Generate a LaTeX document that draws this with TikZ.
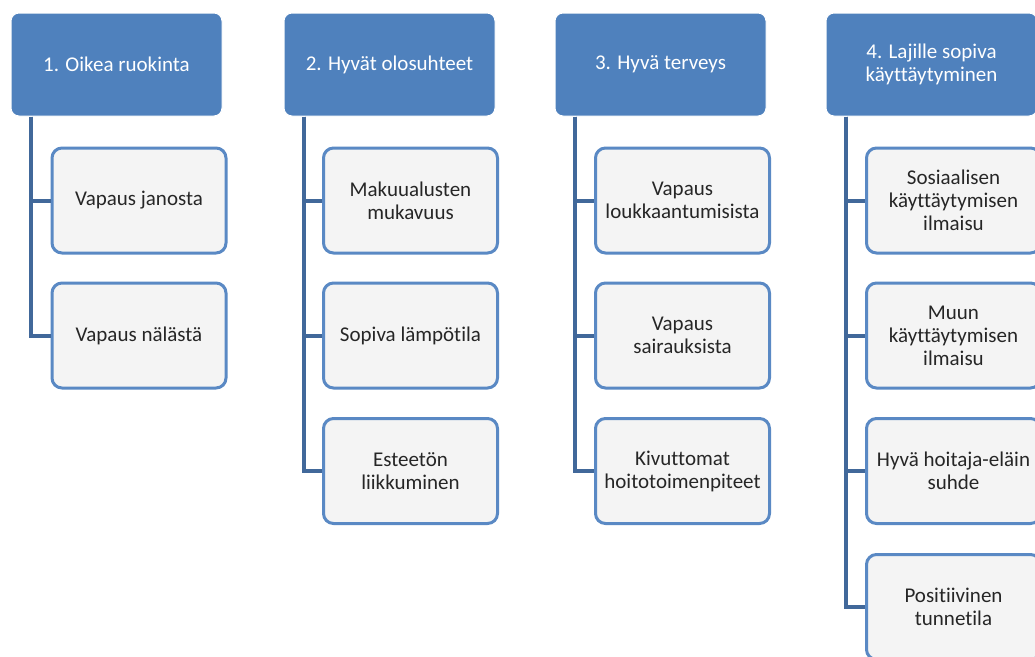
\documentclass[tikz,border=0pt]{standalone}
\usepackage{fontspec}
\setmainfont[Ligatures=NoCommon]{Carlito}
\definecolor{headblue}{HTML}{4F81BD}
\definecolor{boxline}{HTML}{5A89C4}
\definecolor{boxfill}{HTML}{F4F4F4}
\definecolor{linkblue}{HTML}{41689A}
\tikzset{
    head/.style={draw=white, line width=1pt, fill=headblue, rounded corners=8pt,
        minimum width=211pt, minimum height=103pt, text=white, align=center,
        font=\fontsize{21}{23}\selectfont},
    item/.style={draw=boxline, line width=3pt, fill=boxfill, rounded corners=10pt,
        minimum width=174pt, minimum height=105pt, text=black!85, align=center,
        font=\fontsize{21}{23}\selectfont},
    link/.style={draw=linkblue, line width=4pt}
}
\begin{document}
\begin{tikzpicture}[x=1pt, y=-1pt]
        \pgfmathsetmacro\hy{64.5};
        \pgfmathsetmacro\r{20};

        \fill[white] (0, 0) rectangle (1035, 656);
        \clip (0, 0) rectangle (1035, 656);

        \node[head] (h1) at (116.5, \hy) {1. Oikea ruokinta};
        \node[head] (h2) at (389.5, \hy) {2. Hyvät olosuhteet};
        \node[head] (h3) at (660.5, \hy) {3. Hyvä terveys};
        \node[head] (h4) at (931.5, \hy) {4. Lajille sopiva\\käyttäytyminen};

        \node[item] (v1) at (139, 200.5) {Vapaus janosta};
        \node[item] (v2) at (139, 335.5) {Vapaus nälästä};

        \node[item] (o1) at (410.5, 200.5) {Makuualusten\\mukavuus};
        \node[item] (o2) at (410.5, 335.5) {Sopiva lämpötila};
        \node[item] (o3) at (410.5, 471) {Esteetön\\liikkuminen};

        \node[item] (t1) at (682.5, 200.5) {Vapaus\\loukkaantumisista};
        \node[item] (t2) at (682.5, 335.5) {Vapaus\\sairauksista};
        \node[item] (t3) at (682.5, 471) {Kivuttomat\\hoitotoimenpiteet};

        \node[item] (k1) at (953.5, 200.5) {Sosiaalisen\\käyttäytymisen\\ilmaisu};
        \node[item] (k2) at (953.5, 335.5) {Muun\\käyttäytymisen\\ilmaisu};
        \node[item] (k3) at (953.5, 471) {Hyvä hoitaja-eläin\\suhde};
        \node[item] (k4) at (953.5, 607) {Positiivinen\\tunnetila};

        \draw[link] ([xshift=\r pt]h1.south west) |- (v1.west);
        \draw[link] ([xshift=\r pt]h1.south west) |- (v2.west);
        \draw[link] ([xshift=\r pt]h2.south west) |- (o1.west);
        \draw[link] ([xshift=\r pt]h2.south west) |- (o2.west);
        \draw[link] ([xshift=\r pt]h2.south west) |- (o3.west);
        \draw[link] ([xshift=\r pt]h3.south west) |- (t1.west);
        \draw[link] ([xshift=\r pt]h3.south west) |- (t2.west);
        \draw[link] ([xshift=\r pt]h3.south west) |- (t3.west);
        \draw[link] ([xshift=\r pt]h4.south west) |- (k1.west);
        \draw[link] ([xshift=\r pt]h4.south west) |- (k2.west);
        \draw[link] ([xshift=\r pt]h4.south west) |- (k3.west);
        \draw[link] ([xshift=\r pt]h4.south west) |- (k4.west);
    \end{tikzpicture}
\end{document}
